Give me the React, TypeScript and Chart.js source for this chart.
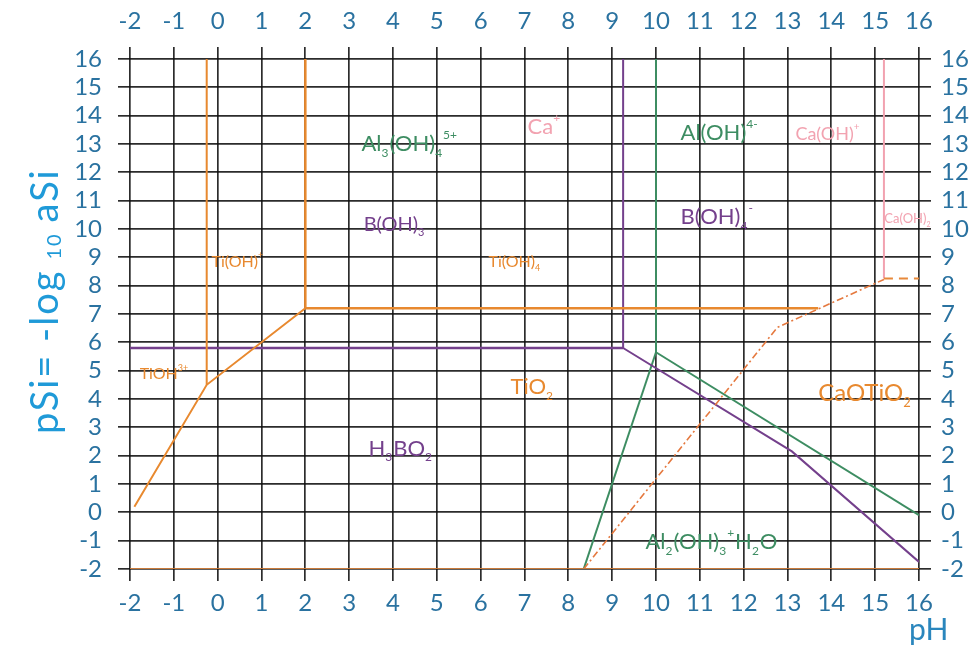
import React, { useEffect, useRef } from "react";
import { Chart, registerables } from "chart.js";

Chart.register(...registerables);

// ---- data (pH, pSi) ----
const phTicks = [-2, -1, 0, 1, 2, 3, 4, 5, 6, 7, 8, 9, 10, 11, 12, 13, 14, 15, 16];
const pSiTicks = [-2, -1, 0, 1, 2, 3, 4, 5, 6, 7, 8, 9, 10, 11, 12, 13, 14, 15, 16];

// Titanium (orange)
const tiLeftVertX = [-0.25, -0.25];
const tiLeftVertY = [16, 4.5];
const tiDiagX = [-1.9, -0.25, 2.0];
const tiDiagY = [0.2, 4.5, 7.2];
const tiVertX = [2.0, 2.0];
const tiVertY = [16, 7.2];
const tiHorizX = [2.0, 13.7];
const tiHorizY = [7.2, 7.2];
const tiBottomX = [-2, 16];
const tiBottomY = [-2, -2];
const caTiX = [8.35, 12.77, 15.2];
const caTiY = [-2, 6.53, 8.22];
const caDashX = [15.2, 16];
const caDashY = [8.25, 8.25];

// Boron (purple)
const bVertX = [9.25, 9.25];
const bVertY = [16, 5.8];
const bHorizX = [-2, 9.25];
const bHorizY = [5.8, 5.8];
const bDiagX = [9.25, 13.1, 16];
const bDiagY = [5.8, 2.15, -1.75];

// Aluminium (green)
const alVertX = [10, 10];
const alVertY = [16, 5.65];
const alLeftX = [8.35, 10];
const alLeftY = [-2, 5.65];
const alRightX = [10, 16];
const alRightY = [5.65, -0.1];

// Calcium (pink)
const caVertX = [15.2, 15.2];
const caVertY = [16, 8.25];

// region labels: [text pieces] with n=normal, b=sub, p=sup
type Piece = [string, "n" | "b" | "p"];
const labelTexts: Piece[][] = [
  [["Al", "n"], ["3", "b"], ["(OH)", "n"], ["4", "b"], ["5+", "p"]],
  [["Ca", "n"], ["+", "p"]],
  [["Al(OH)", "n"], ["4-", "p"]],
  [["Ca(OH)", "n"], ["+", "p"]],
  [["B(OH)", "n"], ["3", "b"]],
  [["B(OH)", "n"], ["4", "b"], ["-", "p"]],
  [["Ca(OH)", "n"], ["2", "b"]],
  [["Ti(OH)", "n"], ["+", "p"]],
  [["Ti(OH)", "n"], ["4", "b"]],
  [["TiOH", "n"], ["3+", "p"]],
  [["TiO", "n"], ["2", "b"]],
  [["CaOTiO", "n"], ["2", "b"]],
  [["H", "n"], ["3", "b"], ["BO", "n"], ["2", "b"]],
  [["Al", "n"], ["2", "b"], ["(OH)", "n"], ["3", "b"], ["+", "p"], ["H", "n"], ["2", "b"], ["O", "n"]],
];
const labelX = [3.28, 7.07, 10.56, 13.18, 3.33, 10.56, 15.21, -0.14, 6.18, -1.78, 6.68, 13.7, 3.44, 9.76];
const labelY = [12.74, 13.34, 13.13, 13.13, 9.92, 10.17, 10.2, 8.65, 8.65, 4.69, 4.17, 3.92, 2.0, -1.3];

const ORANGE = "#e8892f";
const PURPLE = "#74408c";
const GREEN = "#3d8d62";
const PINK = "#f2a2b0";
const labelColors = [GREEN, PINK, GREEN, PINK, PURPLE, PURPLE, PINK, ORANGE, ORANGE, ORANGE, ORANGE, ORANGE, PURPLE, GREEN];
const labelSizes = [22, 22, 22, 18, 20, 22, 13, 16, 16, 16, 22, 24, 22, 22];

const pts = (xs: number[], ys: number[]) => xs.map((x, i) => ({ x, y: ys[i] }));

const TICK_COLOR = "#2a72a0";
const FONT = "Lato, 'Open Sans', sans-serif";

const labelPlugin = {
  id: "regionLabels",
  afterDatasetsDraw(chart: any) {
    const { ctx, scales } = chart;
    const xs = scales.x;
    const ys = scales.y;
    ctx.save();
    labelTexts.forEach((pieces, i) => {
      let px = xs.getPixelForValue(labelX[i]);
      const py = ys.getPixelForValue(labelY[i]);
      const size = labelSizes[i];
      ctx.fillStyle = labelColors[i];
      ctx.textBaseline = "alphabetic";
      ctx.textAlign = "left";
      pieces.forEach(([t, m]) => {
        if (m === "n") {
          ctx.font = `${size}px ${FONT}`;
          ctx.fillText(t, px, py);
          px += ctx.measureText(t).width;
        } else {
          const s = Math.round(size * 0.55);
          ctx.font = `${s}px ${FONT}`;
          const dy = m === "b" ? size * 0.25 : -size * 0.55;
          ctx.fillText(t, px, py + dy);
          px += ctx.measureText(t).width + 1;
        }
      });
    });
    ctx.restore();
  },
};

const titlePlugin = {
  id: "axisTitles",
  afterDraw(chart: any) {
    const { ctx } = chart;
    ctx.save();
    // y title rotated
    ctx.translate(46, 434);
    ctx.rotate(-Math.PI / 2);
    ctx.fillStyle = "#1f9ad8";
    ctx.textBaseline = "middle";
    ctx.textAlign = "left";
    (ctx as any).letterSpacing = "2px";
    let x = 0;
    ctx.font = `38px ${FONT}`;
    const a = "pSi= -log";
    ctx.fillText(a, x, 0);
    x += ctx.measureText(a).width + 10;
    ctx.font = `20px ${FONT}`;
    ctx.fillText("10", x, 9);
    x += ctx.measureText("10").width + 10;
    ctx.font = `38px ${FONT}`;
    ctx.fillText("aSi", x, 0);
    ctx.restore();

    ctx.save();
    ctx.fillStyle = "#2a86bd";
    ctx.font = `30px ${FONT}`;
    ctx.textAlign = "left";
    ctx.textBaseline = "alphabetic";
    ctx.fillText("pH", 909, 640);
    ctx.restore();
  },
};

export default function App() {
  const ref = useRef<HTMLCanvasElement | null>(null);

  useEffect(() => {
    document.body.style.margin = "0";
    if (!ref.current) return;
    const line = (xs: number[], ys: number[], color: string, extra: any = {}) => ({
      data: pts(xs, ys),
      borderColor: color,
      backgroundColor: color,
      borderWidth: 2,
      showLine: true,
      pointRadius: 0,
      fill: false,
      tension: 0,
      ...extra,
    });
    const gridCommon = {
      color: "rgba(15,15,15,0.88)",
      lineWidth: 1.7,
      tickLength: 12,
      tickColor: "rgba(15,15,15,0.88)",
    };
    const tickFont = { family: FONT, size: 24 };
    const xTicks = (pad: number) => ({
      min: -2,
      max: 16,
      afterBuildTicks: (s: any) => {
        s.ticks = phTicks.map((v) => ({ value: v }));
      },
      ticks: { color: TICK_COLOR, font: tickFont, padding: pad, maxRotation: 0, autoSkip: false },
    });
    const yTicks = (pad: number) => ({
      min: -2,
      max: 16,
      afterBuildTicks: (s: any) => {
        s.ticks = pSiTicks.map((v) => ({ value: v }));
      },
      ticks: { color: TICK_COLOR, font: tickFont, padding: pad, autoSkip: false },
    });

    const chart = new Chart(ref.current, {
      type: "scatter",
      data: {
        datasets: [
          line(tiBottomX, tiBottomY, "#c97a3a"),
          line(tiLeftVertX, tiLeftVertY, ORANGE),
          line(tiDiagX, tiDiagY, ORANGE),
          line(tiVertX, tiVertY, ORANGE, { borderWidth: 2.5 }),
          line(tiHorizX, tiHorizY, ORANGE, { borderWidth: 2.5 }),
          line(caTiX, caTiY, "#e5793f", { borderWidth: 1.6, borderDash: [7, 3, 2, 3] }),
          line(caDashX, caDashY, "#e8893a", { borderDash: [9, 6] }),
          line(bVertX, bVertY, PURPLE),
          line(bHorizX, bHorizY, PURPLE, { borderWidth: 2.5 }),
          line(bDiagX, bDiagY, PURPLE),
          line(alVertX, alVertY, GREEN),
          line(alLeftX, alLeftY, GREEN),
          line(alRightX, alRightY, GREEN),
          line(caVertX, caVertY, PINK),
        ],
      },
      options: {
        animation: false,
        responsive: true,
        maintainAspectRatio: false,
        layout: { padding: 0 },
        plugins: { legend: { display: false }, tooltip: { enabled: false }, title: { display: false } },
        scales: {
          x: {
            type: "linear",
            position: "bottom",
            ...xTicks(8),
            grid: { ...gridCommon },
            border: { display: false },
            afterFit: (s: any) => {
              s.height = 77;
            },
          },
          x2: {
            type: "linear",
            position: "top",
            ...xTicks(11),
            grid: { ...gridCommon, drawOnChartArea: false },
            border: { display: false },
            afterFit: (s: any) => {
              s.height = 59;
            },
          },
          y: {
            type: "linear",
            position: "left",
            ...yTicks(16),
            grid: { ...gridCommon },
            border: { display: false },
            afterFit: (s: any) => {
              s.width = 130;
            },
          },
          y2: {
            type: "linear",
            position: "right",
            ...yTicks(10),
            grid: { ...gridCommon, drawOnChartArea: false },
            border: { display: false },
            afterFit: (s: any) => {
              s.width = 57;
            },
          },
        },
      } as any,
      plugins: [labelPlugin, titlePlugin],
    });
    return () => chart.destroy();
  }, []);

  return (
    <div style={{ width: 976, height: 646, position: "relative", background: "#fff" }}>
      <canvas ref={ref} />
    </div>
  );
}
